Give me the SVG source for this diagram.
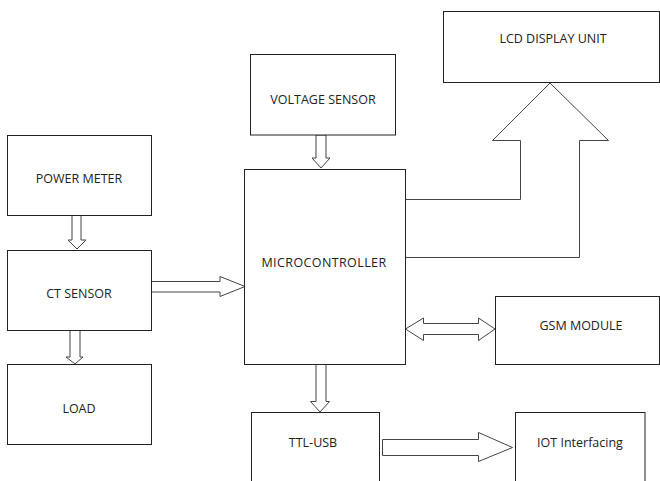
<svg xmlns="http://www.w3.org/2000/svg" width="660" height="481" viewBox="0 0 660 481">
<style>
.box{fill:#fff;stroke:#222;stroke-width:1}
.arr{fill:#fff;stroke:#444;stroke-width:1;stroke-linejoin:miter}
.t{font-family:"Open Sans","DejaVu Sans",sans-serif;font-size:12.5px;fill:#222;text-anchor:middle;dominant-baseline:central}
</style>
<rect width="660" height="481" fill="#fff"/>
<g id="connectors">
<polygon class="arr" points="72,215 81,215 81,240 86,240 77,249 68,240 72,240"/>
<polygon class="arr" points="70,330 80,330 80,357 83,357 75,364 66,357 70,357"/>
<polygon class="arr" points="151,281.5 220,281.5 220,276.5 245,286.5 220,296.5 220,292 151,292"/>
<polygon class="arr" points="316,135 326,135 326,158 330,158 321,168 312,158 316,158"/>
<polygon class="arr" points="316,364 326,364 326,401.5 329.5,401.5 320,412 310.5,401.5 316,401.5"/>
<polygon class="arr" points="382.5,439.5 478.5,439.5 478.5,432.5 512.5,447.5 478.5,461.5 478.5,455.5 382.5,455.5"/>
<polygon class="arr" points="405.5,329 423.5,318 423.5,323.5 478.5,323.5 478.5,318 495,329 478.5,340.5 478.5,334.5 423.5,334.5 423.5,340.5"/>
<path class="arr" d="M405.5,199.5 H520.5 V140.5 H492.5 L550,83 L608.5,140.5 H579.5 V257.5 H405.5"/>
</g>
<g id="power-meter"><rect class="box" x="7.5" y="135.5" width="144" height="80"/><text class="t" x="79" y="178">POWER METER</text></g>
<g id="ct-sensor"><rect class="box" x="7.5" y="250.5" width="144" height="80"/><text class="t" x="79" y="293">CT SENSOR</text></g>
<g id="load"><rect class="box" x="7.5" y="364.5" width="144" height="80"/><text class="t" x="79" y="408">LOAD</text></g>
<g id="voltage-sensor"><rect class="box" x="250.5" y="54.5" width="145" height="80.5"/><text class="t" x="323" y="99">VOLTAGE SENSOR</text></g>
<g id="microcontroller"><rect class="box" x="244.5" y="169.5" width="161" height="195"/><text class="t" x="324" y="262" letter-spacing="0.4">MICROCONTROLLER</text></g>
<g id="lcd-display"><rect class="box" x="443.5" y="11.5" width="216" height="71"/><text class="t" x="553" y="38">LCD DISPLAY UNIT</text></g>
<g id="gsm-module"><rect class="box" x="495.5" y="296.5" width="164" height="68"/><text class="t" x="581" y="325">GSM MODULE</text></g>
<g id="ttl-usb"><rect class="box" x="251.5" y="412.5" width="128" height="72"/><text class="t" x="313" y="442">TTL-USB</text></g>
<g id="iot"><rect class="box" x="515.5" y="412.5" width="129.5" height="72"/><text class="t" x="580" y="442">IOT Interfacing</text></g>
</svg>
